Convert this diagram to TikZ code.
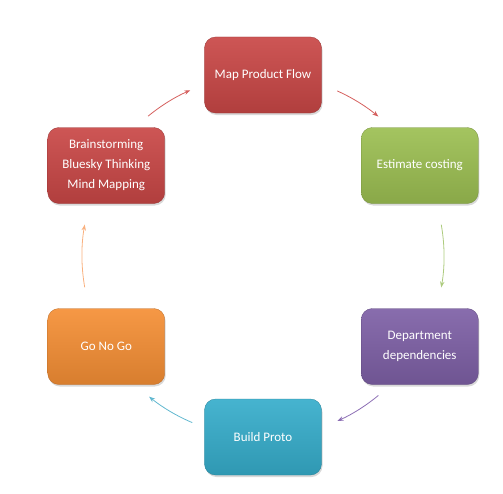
\documentclass[tikz,border=0pt]{standalone}
\usepackage{fontspec}
\setmainfont{Carlito}
\usetikzlibrary{arrows.meta,shadows,calc}
\definecolor{boxred}{HTML}{C94746}
\definecolor{boxgreen}{HTML}{9CBF52}
\definecolor{boxpurple}{HTML}{7E60A6}
\definecolor{boxblue}{HTML}{36ADCB}
\definecolor{boxorange}{HTML}{F58F35}
\definecolor{arrred}{HTML}{D5605E}
\definecolor{arrgreen}{HTML}{ADCB7E}
\definecolor{arrpurple}{HTML}{8C6EB4}
\definecolor{arrblue}{HTML}{62B8D0}
\definecolor{arrorange}{HTML}{F9B07E}
\tikzset{
 stage/.style={rounded corners=11pt,minimum width=117pt,minimum height=76pt,
  text=white,align=center,font=\fontsize{13}{20}\selectfont,
  drop shadow={shadow xshift=1pt,shadow yshift=-2pt,opacity=.3}},
 flow/.style={line width=.8pt,-{Stealth[length=6pt,width=4.5pt]}}
}

\begin{document}
\begin{tikzpicture}[x=1pt,y=1pt]
 \useasboundingbox (-263,-237) rectangle (240,256);
 \coordinate (ctr) at (0,0);
 % boxes round the circle
 \foreach \a/\n/\col/\t in {90/map/boxred/{Map Product Flow},30/est/boxgreen/{Estimate costing},
   -30/dep/boxpurple/{Department\\dependencies},-90/proto/boxblue/{Build Proto},
   -150/gonogo/boxorange/{Go No Go},150/brain/boxred/{Brainstorming\\Bluesky Thinking\\Mind Mapping}}{
  \node[stage,top color=\col!92!white,bottom color=\col!88!black,draw=\col!75!black,line width=.3pt]
   (\n) at ($(ctr)+(\a:181)$) {\t};}
 % arcs between them
 \foreach \a/\b/\col in {129.4/113.7/arrred,65.8/50.4/arrred,10/-10/arrgreen,
   -50.4/-65.7/arrpurple,-113/-129/arrblue,190/170/arrorange}{
  \draw[flow,\col] (ctr) ++(\a:181) arc[start angle=\a,end angle=\b,radius=181];}
\end{tikzpicture}
\end{document}
